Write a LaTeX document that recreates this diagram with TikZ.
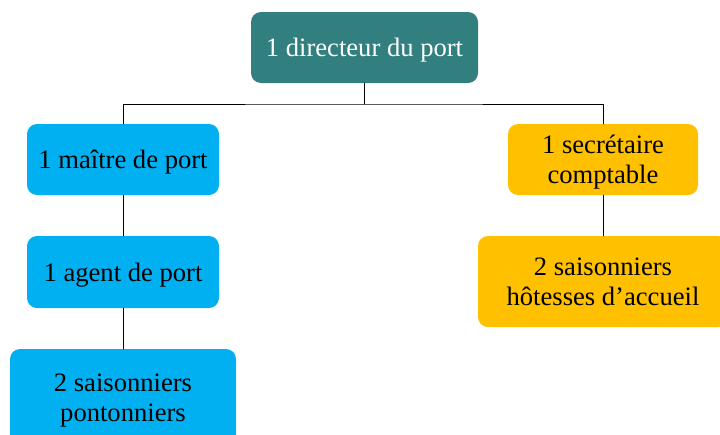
\documentclass[tikz,border=0pt]{standalone}
\usepackage{fontspec}
\setmainfont{Liberation Serif}
\usetikzlibrary{positioning}

\definecolor{teal}{HTML}{31807F}
\definecolor{bleu}{HTML}{00B0F0}
\definecolor{ambre}{HTML}{FFC000}

\begin{document}
\begin{tikzpicture}[
  x={(1pt,0pt)}, y={(0pt,-1pt)},
  line cap=round, line join=round,
  box/.style={rectangle, rounded corners=10pt, draw=none, align=center,
    inner sep=0pt, text depth=0pt, font=\fontsize{26.6}{30}\selectfont},
  chef/.style={box, fill=teal, text=white},
  port/.style={box, fill=bleu},
  admin/.style={box, fill=ambre},
  lien/.style={black, line width=0.9pt}
]
  \useasboundingbox (0,0) rectangle (720,434);

  % head of the port
  \node[chef, minimum width=227pt, minimum height=71pt] (dir) at (364.5,47.5) {1 directeur du port};

  % harbour branch
  \node[port, minimum width=192pt, minimum height=71pt] (maitre) at (123,159.5) {1 ma\^itre de port};
  \node[port, minimum width=192pt, minimum height=72pt] (agent) at (123,272) {1 agent de port};
  \node[port, minimum width=226pt, minimum height=98pt] (ponton) at (123,398) {2 saisonniers\\pontonniers};

  % office branch
  \node[admin, minimum width=190pt, minimum height=71pt] (secr) at (603,159.5) {1 secr\'etaire\\comptable};
  \node[admin, minimum width=250pt, minimum height=91pt] (hotes) at (603,281.5) {2 saisonniers\\h\^otesses d’accueil};

  % connectors
  \coordinate (bus) at (364.5,104);
  \draw[lien] (dir.south) -- (bus);
  \draw[lien] (maitre.north) |- (bus) -| (secr.north);
  \draw[lien] (maitre.south) -- (agent.north);
  \draw[lien] (agent.south) -- (ponton.north);
  \draw[lien] (secr.south) -- (hotes.north);
\end{tikzpicture}
\end{document}
